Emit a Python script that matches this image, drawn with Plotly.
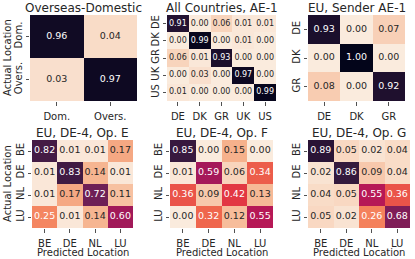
import plotly.graph_objects as go

# ---------------- data ----------------
titles = ["Overseas-Domestic", "All Countries, AE-1", "EU, Sender AE-1",
          "EU, DE-4, Op. E", "EU, DE-4, Op. F", "EU, DE-4, Op. G"]

labels_od = ["Dom.", "Overs."]
labels_all = ["DE", "DK", "GR", "UK", "US"]
labels_eu3 = ["DE", "DK", "GR"]
labels_eu4 = ["BE", "DE", "NL", "LU"]

vals_od = [[0.96, 0.04],
           [0.03, 0.97]]
vals_all = [[0.91, 0.00, 0.06, 0.01, 0.01],
            [0.00, 0.99, 0.00, 0.01, 0.00],
            [0.06, 0.01, 0.93, 0.00, 0.00],
            [0.00, 0.03, 0.00, 0.97, 0.00],
            [0.01, 0.00, 0.00, 0.00, 0.99]]
vals_sender = [[0.93, 0.00, 0.07],
               [0.00, 1.00, 0.00],
               [0.08, 0.00, 0.92]]
vals_op_e = [[0.82, 0.01, 0.01, 0.17],
             [0.01, 0.83, 0.14, 0.01],
             [0.01, 0.17, 0.72, 0.11],
             [0.25, 0.01, 0.14, 0.60]]
vals_op_f = [[0.85, 0.00, 0.15, 0.00],
             [0.01, 0.59, 0.06, 0.34],
             [0.36, 0.09, 0.42, 0.13],
             [0.00, 0.32, 0.12, 0.55]]
vals_op_g = [[0.89, 0.05, 0.02, 0.04],
             [0.02, 0.86, 0.09, 0.04],
             [0.04, 0.05, 0.55, 0.36],
             [0.05, 0.02, 0.26, 0.68]]

x_label = "Predicted Location"
y_label = "Actual Location"

# ---------------- style ----------------
W, H = 415, 259
FONT = "DejaVu Sans"
TXT = "#262626"

# rocket (seaborn) anchor colours, reversed so low values are light
rocket = [(0.0, "#03051a"), (1/7, "#35193e"), (2/7, "#701f57"), (3/7, "#ad1759"),
          (0.5, "#cb1b4f"), (4/7, "#e13342"), (5/7, "#f37651"), (6/7, "#f6b48f"),
          (1.0, "#faebdd")]
rocket_r = sorted([(1 - p, c) for p, c in rocket])
colorscale = [[p, c] for p, c in rocket_r]


def hex2rgb(h):
    h = h.lstrip("#")
    return tuple(int(h[i:i + 2], 16) / 255 for i in (0, 2, 4))


def cmap(v):
    for (p0, c0), (p1, c1) in zip(rocket_r[:-1], rocket_r[1:]):
        if p0 <= v <= p1:
            t = 0 if p1 == p0 else (v - p0) / (p1 - p0)
            a, b = hex2rgb(c0), hex2rgb(c1)
            return tuple(a[i] + (b[i] - a[i]) * t for i in range(3))
    return hex2rgb(rocket_r[-1][1])


def text_color(v):
    rgb = cmap(v)
    lin = [c / 12.92 if c <= 0.03928 else ((c + 0.055) / 1.055) ** 2.4 for c in rgb]
    lum = 0.2126 * lin[0] + 0.7152 * lin[1] + 0.0722 * lin[2]
    return TXT if lum > 0.408 else "white"


def px_dom(a, b, total, flip=False):
    if flip:
        return [(total - b) / total, (total - a) / total]
    return [a / total, b / total]


panels = [
    (labels_od, vals_od, (30, 137), (15, 101), 9.5),
    (labels_all, vals_all, (167, 276), (15, 101), 8),
    (labels_eu3, vals_sender, (308, 405), (15, 101), 9.5),
    (labels_eu4, vals_op_e, (32, 133), (140, 228), 9.5),
    (labels_eu4, vals_op_f, (170, 273), (140, 228), 9.5),
    (labels_eu4, vals_op_g, (308, 410), (140, 228), 9.5),
]

fig = go.Figure()
annotations = []
for i, (labs, vals, xr, yr, afs) in enumerate(panels):
    k = "" if i == 0 else str(i + 1)
    xa, ya = "x" + k, "y" + k
    n = len(labs)
    fig.add_trace(go.Heatmap(z=vals, x=labs, y=labs, zmin=0, zmax=1,
                             colorscale=colorscale, showscale=False,
                             xaxis=xa, yaxis=ya, hoverinfo="skip"))
    xs, ys, ts, cs = [], [], [], []
    for r, rl in enumerate(labs):
        for c, cl in enumerate(labs):
            xs.append(cl)
            ys.append(rl)
            ts.append(f"{vals[r][c]:.2f}")
            cs.append(text_color(vals[r][c]))
    fig.add_trace(go.Scatter(x=xs, y=ys, text=ts, mode="text",
                             textfont=dict(family=FONT, size=afs, color=cs),
                             xaxis=xa, yaxis=ya, showlegend=False, hoverinfo="skip"))
    axcommon = dict(showgrid=False, zeroline=False, showline=False, ticks="outside",
                    ticklen=3.5, tickwidth=0.8, tickcolor=TXT,
                    tickfont=dict(family=FONT, size=10, color=TXT), type="category")
    fig.layout["xaxis" + k] = dict(axcommon, domain=px_dom(*xr, W), anchor=ya,
                                   range=[-0.5, n - 0.5], tickangle=0,
                                   ticklabelstandoff=2)
    fig.layout["yaxis" + k] = dict(axcommon, domain=px_dom(*yr, H, flip=True), anchor=xa,
                                   range=[n - 0.5, -0.5], tickangle=-90)
    # title
    ty = 8 if i < 3 else 133
    annotations.append(dict(text=titles[i], xref=xa + " domain", yref="paper",
                            x=0.5, y=(H - ty) / H, xanchor="center", yanchor="middle",
                            showarrow=False, font=dict(family=FONT, size=12, color=TXT)))
    if i >= 3:
        annotations.append(dict(text=x_label, xref=xa + " domain", yref="paper",
                                x=0.5, y=(H - 252) / H, xanchor="center", yanchor="middle",
                                showarrow=False, font=dict(family=FONT, size=10, color=TXT)))
    if i in (0, 3):
        annotations.append(dict(text=y_label, xref="paper", yref=ya + " domain",
                                x=7 / W, y=0.5, xanchor="center", yanchor="middle",
                                textangle=-90, showarrow=False,
                                font=dict(family=FONT, size=10, color=TXT)))

fig.update_layout(width=W, height=H, margin=dict(l=0, r=0, t=0, b=0),
                  paper_bgcolor="white", plot_bgcolor="white",
                  showlegend=False, annotations=annotations,
                  font=dict(family=FONT, color=TXT))

fig.write_html("out.html", config={"displayModeBar": False, "staticPlot": True},
               post_script="document.body.style.margin='0';document.body.style.overflow='hidden';")
